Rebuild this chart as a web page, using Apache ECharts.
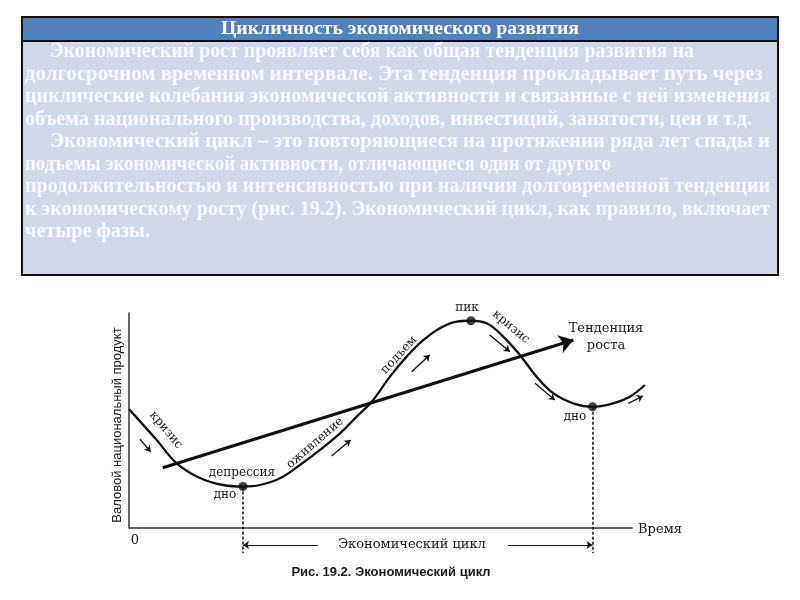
<!DOCTYPE html>
<html><head><meta charset="utf-8">
<script src="https://cdn.jsdelivr.net/npm/echarts@6/dist/echarts.min.js"></script>
<style>html,body{margin:0;padding:0;background:#fff}#c{width:800px;height:600px}</style>
</head><body><div id="c"></div>
<script>
// ---- data ----
const curveX = [0, 5.5, 9.46, 14.09, 18.65, 22.62, 26.0, 29.96, 33.93, 37.9, 41.87, 45.18, 48.16, 51.79, 55.1, 58.39, 61.7, 65.02, 67.86, 70.97, 74.27, 77.58, 80.89, 84.19, 88.15, 92.0, 96.09, 99.4, 102.38];
const curveY = [55.3, 40.9, 30.1, 23.26, 20.0, 19.3, 20.0, 23.1, 29.3, 36.3, 44.0, 51.8, 58.7, 70.4, 79.7, 87.4, 92.9, 96.0, 96.4, 95.2, 89.0, 80.5, 70.4, 62.7, 58.0, 56.4, 58.0, 61.1, 66.5];
const trendX = [6.7, 88.2];
const trendY = [28.0, 87.4];
const pointNames = ['дно', 'пик', 'дно'];
const pointX = [22.62, 67.86, 92.0];
const pointY = [19.3, 96.4, 56.4];
const timeAxisEnd = 100;
const cycleFloor = -11.6;
const cycleArrowY = -7.9;
const cycleArrowInner = [37.5, 75.2];
const phaseArrowsFrom = [[2.18, 41.3], [40.2, 33.5], [56.1, 72.7], [71.6, 89.8], [80.6, 67.3], [99.1, 58.0]];
const phaseArrowsTo   = [[4.31, 35.5], [44.0, 40.9], [59.7, 80.5], [75.6, 82.0], [84.5, 59.5], [102.0, 61.4]];
const bodyLines = [
  'Экономический рост проявляет себя как общая тенденция развития на',
  'долгосрочном временном интервале. Эта тенденция прокладывает путь через',
  'циклические колебания экономической активности и связанные с ней изменения',
  'объема национального производства, доходов, инвестиций, занятости, цен и т.д.',
  'Экономический цикл – это повторяющиеся на протяжении ряда лет спады и',
  'подъемы экономической активности, отличающиеся один от другого',
  'продолжительностью и интенсивностью при наличии долговременной тенденции',
  'к экономическому росту (рис. 19.2). Экономический цикл, как правило, включает',
  'четыре фазы.'
];
const indented = [0, 4];
const titleText = 'Цикличность экономического развития';

// ---- layout (pixel right edges of text lines) ----
const lineRightEdge = [694, 763, 770, 752, 770, 611, 770, 770, 150];

// ---- chart ----
const chart = echarts.init(document.getElementById('c'), null, {renderer: 'canvas'});
const serif = '"DejaVu Serif", serif';
const bodyFont = '"Liberation Serif", "Times New Roman", serif';
const bodyFontFull = 'bold 20px ' + bodyFont;
const mctx = document.createElement('canvas').getContext('2d');
mctx.font = bodyFontFull;
const graphic = [
  {type:'rect', shape:{x:22, y:17, width:756, height:258}, style:{fill:'#d0d8e8', stroke:'#111', lineWidth:2}},
  {type:'rect', shape:{x:22, y:17, width:756, height:24}, style:{fill:'#4f81bd', stroke:'#111', lineWidth:2}},
  {type:'text', x:400, y:29, scaleX:1.04, style:{text:titleText, fill:'#fff', font:'bold 19px ' + bodyFont, align:'center', verticalAlign:'middle'}}
];
bodyLines.forEach((t, i) => {
  const x0 = indented.includes(i) ? 50 : 25;
  const w = mctx.measureText(t).width || 1;
  let sx = (lineRightEdge[i] - x0) / w;
  if (!isFinite(sx) || sx <= 0) sx = 1;
  graphic.push({type:'text', x: x0, y: 52 + i * 22.5, scaleX: sx,
    style:{text:t, fill:'#f6f8fb', font:bodyFontFull, align:'left', verticalAlign:'middle'}});
});
function lbl(text, x, y, deg, size, font) {
  graphic.push({type:'text', x:x, y:y, rotation:(deg || 0) * Math.PI / 180,
    style:{text:text, fill:'#1a1a1a', font:(size || 13) + 'px ' + (font || serif), align:'center', verticalAlign:'middle'}});
}
lbl('Валовой национальный продукт', 117, 425, 90, 13, '"Liberation Sans", Arial, sans-serif');
lbl('0', 135, 541, 0, 13);
lbl('Время', 660, 530, 0, 13);
lbl('Тенденция', 606, 329, 0, 13);
lbl('роста', 606, 346, 0, 13);
lbl('пик', 467, 308, 0, 12);
lbl('депрессия', 242, 473, 0, 12);
lbl(pointNames[0], 225, 495, 0, 12);
lbl(pointNames[2], 575, 417, 0, 12);
lbl('кризис', 166, 430, -50, 12);
lbl('оживление', 315, 443, 41, 12);
lbl('подъем', 399, 355, 47, 12);
lbl('кризис', 511, 327, -40, 12);
lbl('Экономический цикл', 412, 545, 0, 13);
graphic.push({type:'text', x:391, y:572, style:{text:'Рис. 19.2. Экономический цикл', fill:'#1a1a1a',
  font:'bold 13px "Liberation Sans", Arial, sans-serif', align:'center', verticalAlign:'middle'}});

// x range 0..104 over 129..653 px (5.04 px per unit); x-axis line drawn only to 100
chart.setOption({
  animation:false,
  backgroundColor:'#fff',
  grid:{left:129, right:147, top:313, bottom:72},
  xAxis:{type:'value', min:0, max:104, splitLine:{show:false}, axisTick:{show:false}, axisLabel:{show:false}, axisLine:{show:false}},
  yAxis:{type:'value', min:0, max:100, splitLine:{show:false}, axisTick:{show:false}, axisLabel:{show:false},
    axisLine:{show:true, lineStyle:{color:'#333', width:1.5}}},
  graphic: graphic,
  series:[
    {type:'lines', coordinateSystem:'cartesian2d', clip:false, silent:true,
      data:[{coords:[[0, 0], [timeAxisEnd, 0]]}], symbol:'none', lineStyle:{color:'#333', width:1.5, opacity:1}},
    {type:'line', data:curveX.map((x, i) => [x, curveY[i]]), smooth:0.4, showSymbol:false, clip:false,
      lineStyle:{color:'#111', width:2.3}},
    {type:'lines', coordinateSystem:'cartesian2d', clip:false,
      data:[{coords:trendX.map((x, i) => [x, trendY[i]])}],
      symbol:['none','arrow'], symbolSize:[9, 14], lineStyle:{color:'#111', width:3.2, opacity:1}},
    {type:'lines', coordinateSystem:'cartesian2d', clip:false,
      data:phaseArrowsFrom.map((f, i) => ({coords:[f, phaseArrowsTo[i]]})),
      symbol:['none','arrow'], symbolSize:6, lineStyle:{color:'#111', width:1.3, opacity:1}},
    {type:'lines', coordinateSystem:'cartesian2d', clip:false,
      data:[{coords:[[pointX[0], pointY[0]], [pointX[0], cycleFloor]]}, {coords:[[pointX[2], pointY[2]], [pointX[2], cycleFloor]]}],
      symbol:'none', lineStyle:{color:'#111', width:1.5, type:[3,2], opacity:1}},
    {type:'lines', coordinateSystem:'cartesian2d', clip:false,
      data:[{coords:[[cycleArrowInner[0], cycleArrowY], [pointX[0], cycleArrowY]]}, {coords:[[cycleArrowInner[1], cycleArrowY], [pointX[2], cycleArrowY]]}],
      symbol:['none','arrow'], symbolSize:6, lineStyle:{color:'#111', width:1.2, opacity:1}},
    {type:'scatter', data:pointX.map((x, i) => [x, pointY[i]]), symbolSize:9, itemStyle:{color:'#111'}, clip:false, z:5}
  ]
});
</script></body></html>
